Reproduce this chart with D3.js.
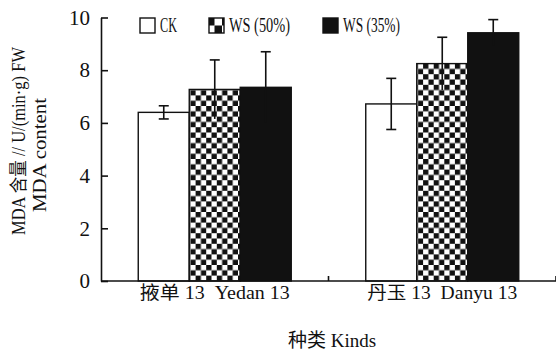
<!DOCTYPE html>
<html>
<head>
<meta charset="utf-8">
<script src="https://cdn.jsdelivr.net/npm/d3@7/dist/d3.min.js"></script>
<style>
  html, body { margin: 0; padding: 0; background: #fff; }
  svg { display: block; }
  svg text { font-family: "Liberation Serif", "Times New Roman", Tinos, "DejaVu Serif", "Noto Sans CJK SC", serif !important; fill: #111; }
</style>
</head>
<body>
<svg id="chart" width="556" height="353"></svg>
<script>
// ---- data ----
const categories = ["掖单 13  Yedan 13", "丹玉 13  Danyu 13"];
const seriesNames = ["CK", "WS (50%)", "WS (35%)"];
const ckValues   = [6.40, 6.72];
const ws50Values = [7.27, 8.25];
const ws35Values = [7.35, 9.42];
const ckErrors   = [0.25, 0.97];
const ws50Errors = [1.12, 1.00];
const ws35Errors = [1.35, 0.50];
const yTicks = [0, 2, 4, 6, 8, 10];
const yTitle1 = "MDA 含量 // U/(min·g) FW";
const yTitle2 = "MDA content";
const xTitle = "种类 Kinds";

const seriesValues = [ckValues, ws50Values, ws35Values];
const seriesErrors = [ckErrors, ws50Errors, ws35Errors];

const svg = d3.select("#chart");
const mLeft = 101, mRight = 556, mTop = 17.5, mBottom = 281;

const defs = svg.append("defs");
const pat = defs.append("pattern").attr("id", "checker")
  .attr("patternUnits", "userSpaceOnUse").attr("width", 10.6).attr("height", 10.6)
  .attr("x", 190).attr("y", 0);
pat.append("rect").attr("width", 10.6).attr("height", 10.6).attr("fill", "#fff");
pat.append("rect").attr("width", 5.3).attr("height", 5.3).attr("fill", "#111");
pat.append("rect").attr("x", 5.3).attr("y", 5.3).attr("width", 5.3).attr("height", 5.3).attr("fill", "#111");

const fills = ["#fff", "url(#checker)", "#111"];

const x0 = d3.scaleBand().domain(categories).range([mLeft, mRight]).padding(0);
const x1 = d3.scaleBand().domain(seriesNames)
  .range([x0.bandwidth() / 2 - 76.5, x0.bandwidth() / 2 + 76.5]).padding(0);
const y = d3.scaleLinear().domain([0, 10]).range([mBottom, mTop]);

// bars
const groups = svg.append("g").selectAll("g").data(categories).join("g")
  .attr("transform", d => `translate(${x0(d)},0)`);

seriesNames.forEach((s, si) => {
  groups.append("rect")
    .attr("x", x1(s))
    .attr("y", (d, ci) => y(seriesValues[si][ci]))
    .attr("width", x1.bandwidth())
    .attr("height", (d, ci) => mBottom - y(seriesValues[si][ci]))
    .attr("fill", fills[si])
    .attr("stroke", "#111").attr("stroke-width", 1.4);
});

// error bars
seriesNames.forEach((s, si) => {
  const cx = x1(s) + x1.bandwidth() / 2;
  const g = groups.append("g").attr("stroke", "#111").attr("stroke-width", 1.6);
  g.append("line")
    .attr("x1", cx).attr("x2", cx)
    .attr("y1", (d, ci) => y(seriesValues[si][ci] + seriesErrors[si][ci]))
    .attr("y2", (d, ci) => y(seriesValues[si][ci] - seriesErrors[si][ci]));
  g.append("line")
    .attr("x1", cx - 5).attr("x2", cx + 5)
    .attr("y1", (d, ci) => y(seriesValues[si][ci] + seriesErrors[si][ci]))
    .attr("y2", (d, ci) => y(seriesValues[si][ci] + seriesErrors[si][ci]));
  if (si === 0) {
    g.append("line")
      .attr("x1", cx - 5).attr("x2", cx + 5)
      .attr("y1", (d, ci) => y(seriesValues[si][ci] - seriesErrors[si][ci]))
      .attr("y2", (d, ci) => y(seriesValues[si][ci] - seriesErrors[si][ci]));
  }
});

// y axis
const yAxis = svg.append("g").attr("transform", `translate(${mLeft},0)`)
  .call(d3.axisLeft(y).tickValues(yTicks).tickSizeInner(-7).tickSizeOuter(0).tickPadding(11));
yAxis.attr("font-family", null);
yAxis.select(".domain").attr("stroke", "#111").attr("stroke-width", 1.6);
yAxis.selectAll(".tick line").attr("stroke", "#111").attr("stroke-width", 1.6);
yAxis.selectAll(".tick text").attr("font-size", 21).attr("fill", "#111");

// x axis
const xAxis = svg.append("g").attr("transform", `translate(0,${mBottom})`);
xAxis.append("line").attr("x1", mLeft).attr("x2", mRight).attr("y1", 0).attr("y2", 0)
  .attr("stroke", "#111").attr("stroke-width", 1.6);
xAxis.selectAll("line.tk").data(categories).join("line").attr("class", "tk")
  .attr("x1", d => x0(d) + x0.bandwidth()).attr("x2", d => x0(d) + x0.bandwidth())
  .attr("y1", 0).attr("y2", -5).attr("stroke", "#111").attr("stroke-width", 1.6);
xAxis.selectAll("text").data(categories).join("text")
  .attr("x", d => x0(d) + x0.bandwidth() / 2)
  .attr("y", 18).attr("text-anchor", "middle").attr("font-size", 18)
  .attr("textLength", 150).attr("lengthAdjust", "spacingAndGlyphs")
  .style("white-space", "pre")
  .text(d => d);

// x title
svg.append("text").attr("x", 332).attr("y", 347).attr("text-anchor", "middle")
  .attr("font-size", 19).text(xTitle);

// y titles
svg.append("text").attr("transform", "translate(25,141) rotate(-90)")
  .attr("text-anchor", "middle").attr("font-size", 18)
  .attr("textLength", 188).attr("lengthAdjust", "spacingAndGlyphs").text(yTitle1);
svg.append("text").attr("transform", "translate(46,155) rotate(-90)")
  .attr("text-anchor", "middle").attr("font-size", 19)
  .attr("textLength", 114).attr("lengthAdjust", "spacingAndGlyphs").text(yTitle2);

// legend
const legX = [139, 208, 322];
const legW = [17, 61, 57];
const lpat = defs.append("pattern").attr("id", "checkerLeg")
  .attr("patternUnits", "userSpaceOnUse").attr("width", 15).attr("height", 15)
  .attr("x", legX[1] + 1).attr("y", 18);
lpat.append("rect").attr("width", 15).attr("height", 15).attr("fill", "#fff");
lpat.append("rect").attr("width", 7.5).attr("height", 7.5).attr("fill", "#111");
lpat.append("rect").attr("x", 7.5).attr("y", 7.5).attr("width", 7.5).attr("height", 7.5).attr("fill", "#111");
const legFills = ["#fff", "url(#checkerLeg)", "#111"];

const leg = svg.append("g").selectAll("g").data(seriesNames).join("g")
  .attr("transform", (d, i) => `translate(${legX[i]},0)`);
leg.append("rect").attr("x", 1).attr("y", 18).attr("width", 15).attr("height", 15)
  .attr("fill", (d, i) => legFills[i]).attr("stroke", "#111").attr("stroke-width", 1.4);
leg.append("text").attr("x", 21).attr("y", 32).attr("font-size", 20)
  .attr("textLength", (d, i) => legW[i]).attr("lengthAdjust", "spacingAndGlyphs")
  .text(d => d);
</script>
</body>
</html>
